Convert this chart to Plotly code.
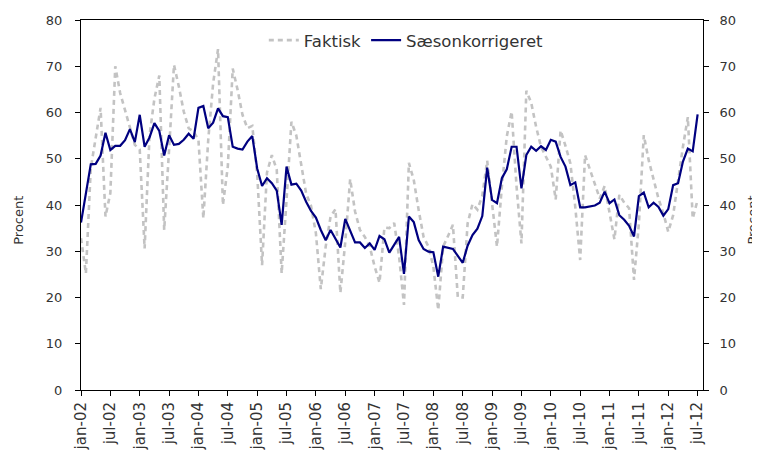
import plotly.graph_objects as go

month_names = ["jan", "feb", "mar", "apr", "maj", "jun", "jul", "aug", "sep", "okt", "nov", "dec"]
years = [str(y)[2:] for y in range(2002, 2013)]
categories = [f"{m}-{y}" for y in years for m in month_names][:127]  # jan-02 .. jul-12

faktisk = [
    32.8, 25.2, 48, 55, 61, 37.5, 42.6, 70, 64.2, 60.5, 57, 53,
    52, 30.6, 55, 63, 68, 34.6, 52, 70.3, 65.6, 60.2, 56.6, 55.9,
    54.1, 37.1, 54.1, 66.3, 73.7, 40.0, 48.3, 69.5, 64.9, 59.5, 56.6, 57.1,
    46.8, 27.0, 47, 50.8, 47.6, 25.2, 41.1, 58, 55, 48.6, 42.5, 39.8,
    33.9, 21.8, 31.0, 37.5, 39.1, 21.0, 32, 45.6, 38.6, 34.6, 33.1, 31.0,
    26.7, 23.2, 35.1, 35.0, 36.1, 28.8, 18.4, 49.1, 45.4, 38.9, 33.1, 31,
    26.7, 17.3, 31, 33.3, 35.7, 20, 20, 36, 40.2, 39, 42, 49.6,
    39.6, 31, 44, 54.8, 60.2, 44, 31.7, 64.7, 62.1, 56.9, 52.6, 50.4,
    48.3, 41.2, 56.1, 52.8, 49.0, 39.6, 28.1, 50.8, 47.6, 44.7, 41.4, 44.1,
    38.2, 32.6, 42.2, 40.5, 39.3, 23.8, 36, 55.1, 49.7, 45.4, 41.4, 38.2,
    34.2, 37.8, 45.4, 52.6, 59.0, 37.1, 41.1,
]

saeson = [
    36.2, 42.5, 48.8, 48.9, 50.7, 55.6, 51.9, 52.8, 52.8, 54.0, 56.4, 53.6,
    59.5, 52.6, 54.6, 57.7, 56.0, 50.7, 55.1, 53.0, 53.2, 54.1, 55.4, 54.3,
    61.0, 61.4, 56.6, 57.8, 60.9, 59.2, 59.0, 52.6, 52.2, 52.0, 53.7, 54.9,
    47.9, 44.1, 45.8, 44.7, 43.1, 35.7, 48.3, 44.4, 44.6, 43.1, 40.7, 38.7,
    37.3, 34.6, 32.4, 34.6, 32.8, 30.8, 37.0, 34.6, 31.9, 31.9, 30.7, 31.7,
    30.3, 33.3, 32.6, 29.7, 31.4, 33.1, 25.1, 37.5, 36.3, 32.4, 30.5, 29.9,
    29.8, 24.5, 31.0, 30.8, 30.5, 29.0, 27.5, 31.2, 33.5, 34.9, 37.6, 48.1,
    41.1, 40.4, 45.8, 47.7, 52.6, 52.6, 43.6, 50.8, 52.6, 51.7, 52.7, 51.9,
    54.1, 53.7, 50.4, 48.3, 44.3, 44.9, 39.5, 39.5, 39.7, 39.9, 40.5, 42.9,
    40.4, 41.2, 37.8, 36.8, 35.5, 33.2, 41.9, 42.7, 39.5, 40.5, 39.6, 37.7,
    39.1, 44.3, 44.7, 49.4, 52.2, 51.6, 59.6,
]

tick_labels = categories[::6]
y_ticks = list(range(0, 81, 10))
y_title = "Procent"

FONT = "DejaVu Sans"
TXT = "#333333"

fig = go.Figure()
fig.add_trace(go.Scatter(
    x=categories, y=faktisk, name="Faktisk", mode="lines",
    line=dict(color="#c3c3c3", width=2.6, dash="5px,4px"),
))
fig.add_trace(go.Scatter(
    x=categories, y=saeson, name="Sæsonkorrigeret", mode="lines",
    line=dict(color="#000080", width=2.2),
))
# invisible trace to activate the right-hand axis
fig.add_trace(go.Scatter(
    x=categories[:1], y=[None], yaxis="y2", showlegend=False, hoverinfo="skip",
))

axis_common = dict(
    range=[0, 80], tickvals=y_ticks, ticks="outside", ticklen=5, tickwidth=1,
    tickcolor="black", showline=True, linecolor="black", linewidth=1,
    showgrid=False, zeroline=False, automargin=False,
    tickfont=dict(family=FONT, size=13, color=TXT),
)

# page body adds an 8px offset; margins compensate so the plot area lands at
# x 81..703, y 19.5..390 in the window
fig.update_layout(
    width=760, height=461,
    margin=dict(l=73, r=65, t=11.5, b=79),
    paper_bgcolor="white", plot_bgcolor="white",
    font=dict(family=FONT, size=13, color=TXT),
    showlegend=True,
    legend=dict(
        orientation="h", x=0.523, y=0.945, xanchor="center", yanchor="middle",
        font=dict(family=FONT, size=16.5, color=TXT), bgcolor="rgba(0,0,0,0)",
        itemwidth=30, tracegroupgap=0,
    ),
    xaxis=dict(
        type="category", categoryorder="array", categoryarray=categories,
        range=[0, 127.1], tickvals=tick_labels, ticktext=tick_labels,
        tickangle=-90, ticks="outside", ticklen=5, tickcolor="black",
        showline=True, linecolor="black", linewidth=1, mirror=True,
        showgrid=False, zeroline=False, automargin=False,
        tickfont=dict(family=FONT, size=15, color=TXT),
    ),
    yaxis=dict(ticklabelstandoff=10, **axis_common),
    yaxis2=dict(overlaying="y", side="right", ticklabelstandoff=8, **axis_common),
    annotations=[
        dict(text=y_title, xref="paper", yref="paper", x=-0.0997, y=0.46,
             textangle=-90, showarrow=False, xanchor="center", yanchor="middle",
             font=dict(family=FONT, size=13, color=TXT)),
        dict(text=y_title, xref="paper", yref="paper", x=1.08, y=0.46,
             textangle=-90, showarrow=False, xanchor="center", yanchor="middle",
             font=dict(family=FONT, size=13, color=TXT)),
    ],
)

fig.write_html("out.html")
